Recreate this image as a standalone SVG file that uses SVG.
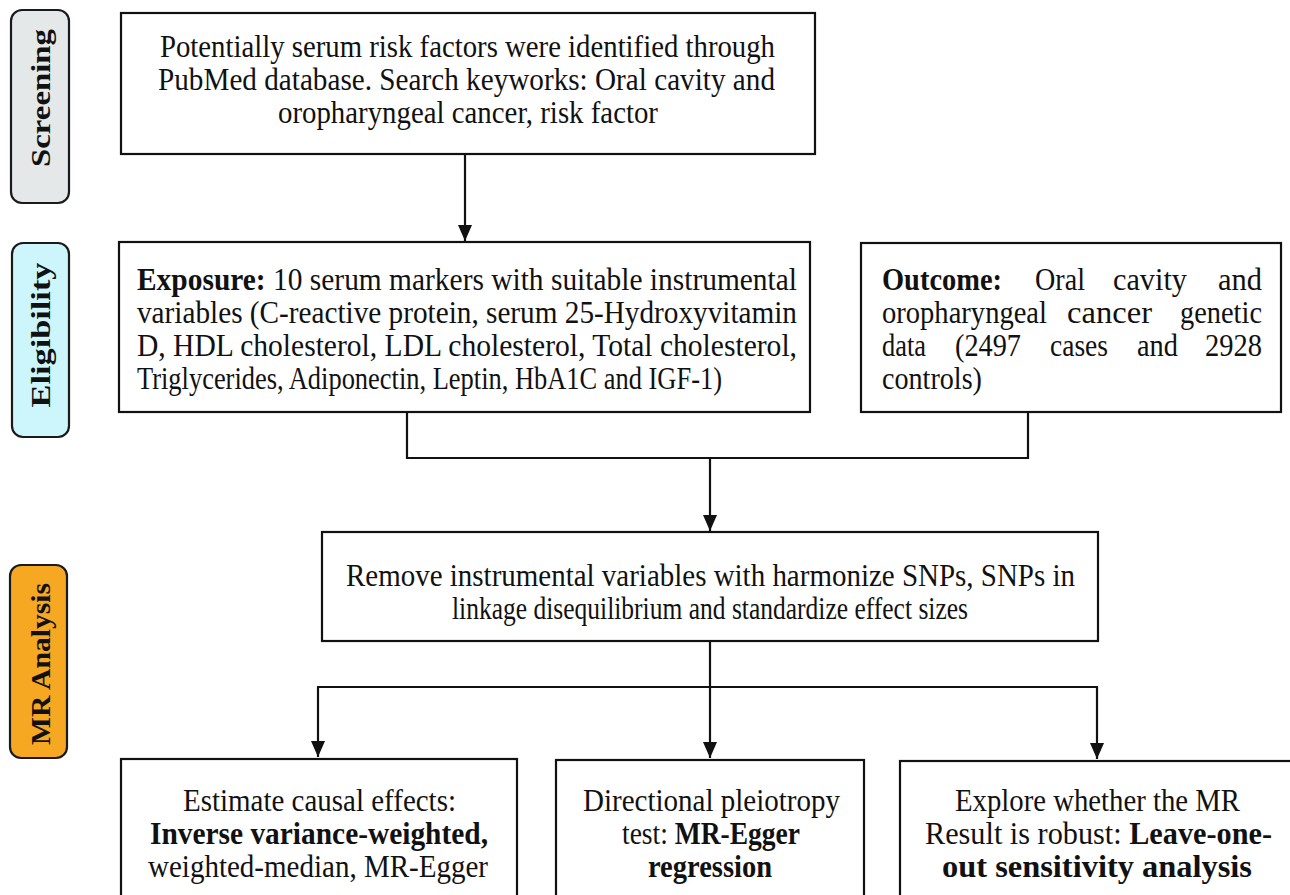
<svg xmlns="http://www.w3.org/2000/svg" width="1290" height="895" viewBox="0 0 1290 895">
<style>
.box{fill:#fff;stroke:#111;stroke-width:2.2}
.pill{stroke:#1a1a1a;stroke-width:2.2}
.t{font-family:"Liberation Serif","Times New Roman",Times,serif;font-size:28px;fill:#111}
.s{font-size:27px}
.b{font-weight:bold}
.lab{font-family:"Liberation Serif","Times New Roman",Times,serif;font-size:27px;font-weight:bold;fill:#111;text-anchor:middle}
.ln{fill:none;stroke:#111;stroke-width:2.2}
</style>
<defs>
<marker id="ah" viewBox="0 0 16 14" refX="16" refY="7" markerWidth="16" markerHeight="14" markerUnits="userSpaceOnUse" orient="auto">
<path d="M0,0 L16,7 L0,14 Z" fill="#111"/>
</marker>
</defs>
<rect width="1290" height="895" fill="#fff"/>

<g id="screening">
<rect class="pill" x="11" y="10" width="58" height="193" rx="11" fill="#e4e8e8"/>
<text class="lab" transform="translate(50,98) rotate(-90)" x="0" y="0" textLength="138" lengthAdjust="spacingAndGlyphs">Screening</text>
</g>
<g id="eligibility">
<rect class="pill" x="12" y="243" width="57" height="194" rx="11" fill="#ccf6fc"/>
<text class="lab" transform="translate(50,335) rotate(-90)" x="0" y="0" textLength="145" lengthAdjust="spacingAndGlyphs">Eligibility</text>
</g>
<g id="mr-analysis">
<rect class="pill" x="10" y="565" width="57" height="193" rx="11" fill="#f6a822"/>
<text class="lab" transform="translate(50,664) rotate(-90)" x="0" y="0" textLength="162" lengthAdjust="spacingAndGlyphs">MR Analysis</text>
</g>

<g id="connectors">
<line class="ln" x1="465" y1="154" x2="465" y2="241" marker-end="url(#ah)"/>
<polyline class="ln" points="407,412 407,458 1028,458 1028,412"/>
<line class="ln" x1="710" y1="458" x2="710" y2="531" marker-end="url(#ah)"/>
<line class="ln" x1="710" y1="641" x2="710" y2="687"/>
<line class="ln" x1="317" y1="687" x2="1098" y2="687"/>
<line class="ln" x1="318" y1="687" x2="318" y2="757" marker-end="url(#ah)"/>
<line class="ln" x1="710" y1="687" x2="710" y2="758" marker-end="url(#ah)"/>
<line class="ln" x1="1097" y1="687" x2="1097" y2="759" marker-end="url(#ah)"/>
</g>

<g id="search">
<rect class="box" x="121" y="13" width="694" height="141"/>
<g transform="scale(1,1.15)">
<text class="t" x="160" y="49.57" textLength="615" lengthAdjust="spacingAndGlyphs">Potentially serum risk factors were identified through</text>
<text class="t" x="158" y="78.26" textLength="617" lengthAdjust="spacingAndGlyphs">PubMed database. Search keyworks:  Oral cavity and</text>
<text class="t" x="278" y="106.96" textLength="380" lengthAdjust="spacingAndGlyphs">oropharyngeal cancer, risk factor</text>
</g>
</g>

<g id="exposure">
<rect class="box" x="119" y="242" width="691" height="170"/>
<g transform="scale(1,1.15)">
<text class="t" x="137" y="252.17" textLength="660" lengthAdjust="spacingAndGlyphs"><tspan class="b">Exposure:</tspan> 10 serum markers with suitable instrumental</text>
<text class="t" x="137" y="280.87" textLength="660" lengthAdjust="spacingAndGlyphs">variables (C-reactive protein, serum 25-Hydroxyvitamin</text>
<text class="t" x="137" y="309.57" textLength="660" lengthAdjust="spacingAndGlyphs">D, HDL cholesterol, LDL cholesterol, Total cholesterol,</text>
<text class="t" x="137" y="338.26" textLength="585" lengthAdjust="spacingAndGlyphs">Triglycerides, Adiponectin, Leptin, HbA1C and IGF-1)</text>
</g>
</g>

<g id="outcome">
<rect class="box" x="861" y="243" width="420" height="169"/>
<g transform="scale(1,1.15)">
<text class="t b" x="882" y="252.17" textLength="120" lengthAdjust="spacingAndGlyphs">Outcome:</text>
<text class="t" x="1035" y="252.17" textLength="50" lengthAdjust="spacingAndGlyphs">Oral</text>
<text class="t" x="1113" y="252.17" textLength="74" lengthAdjust="spacingAndGlyphs">cavity</text>
<text class="t" x="1218" y="252.17" textLength="44" lengthAdjust="spacingAndGlyphs">and</text>
<text class="t" x="882" y="280.87" textLength="165" lengthAdjust="spacingAndGlyphs">oropharyngeal</text>
<text class="t" x="1067" y="280.87" textLength="85" lengthAdjust="spacingAndGlyphs">cancer</text>
<text class="t" x="1180" y="280.87" textLength="82" lengthAdjust="spacingAndGlyphs">genetic</text>
<text class="t" x="882" y="309.57" textLength="44" lengthAdjust="spacingAndGlyphs">data</text>
<text class="t" x="955" y="309.57" textLength="66" lengthAdjust="spacingAndGlyphs">(2497</text>
<text class="t" x="1050" y="309.57" textLength="58" lengthAdjust="spacingAndGlyphs">cases</text>
<text class="t" x="1137" y="309.57" textLength="41" lengthAdjust="spacingAndGlyphs">and</text>
<text class="t" x="1205" y="309.57" textLength="57" lengthAdjust="spacingAndGlyphs">2928</text>
<text class="t" x="882" y="338.26" textLength="100" lengthAdjust="spacingAndGlyphs">controls)</text>
</g>
</g>

<g id="harmonize">
<rect class="box" x="322" y="532" width="776" height="109"/>
<g transform="scale(1,1.15)">
<text class="t" x="346" y="509.57" textLength="729" lengthAdjust="spacingAndGlyphs">Remove instrumental variables with harmonize SNPs, SNPs in</text>
<text class="t" x="452" y="538.26" textLength="516" lengthAdjust="spacingAndGlyphs">linkage disequilibrium and standardize effect sizes</text>
</g>
</g>

<g id="estimate">
<rect class="box" x="121" y="759" width="396" height="160"/>
<g transform="scale(1,1.15)">
<text class="t s" x="183" y="705.22" textLength="273" lengthAdjust="spacingAndGlyphs">Estimate causal effects:</text>
<text class="t s b" x="150" y="733.91" textLength="338" lengthAdjust="spacingAndGlyphs">Inverse variance-weighted,</text>
<text class="t s" x="148" y="762.61" textLength="340" lengthAdjust="spacingAndGlyphs">weighted-median, MR-Egger</text>
</g>
</g>

<g id="pleiotropy">
<rect class="box" x="556" y="760" width="308" height="160"/>
<g transform="scale(1,1.15)">
<text class="t s" x="583" y="705.22" textLength="257" lengthAdjust="spacingAndGlyphs">Directional pleiotropy</text>
<text class="t s" x="622" y="733.91" textLength="178" lengthAdjust="spacingAndGlyphs">test: <tspan class="b">MR-Egger</tspan></text>
<text class="t s b" x="648" y="762.61" textLength="124" lengthAdjust="spacingAndGlyphs">regression</text>
</g>
</g>

<g id="sensitivity">
<rect class="box" x="900" y="761" width="400" height="160"/>
<g transform="scale(1,1.15)">
<text class="t s" x="955" y="705.22" textLength="285" lengthAdjust="spacingAndGlyphs">Explore whether the MR</text>
<text class="t s" x="925" y="733.91" textLength="347" lengthAdjust="spacingAndGlyphs">Result is robust: <tspan class="b">Leave-one-</tspan></text>
<text class="t s b" x="942" y="762.61" textLength="310" lengthAdjust="spacingAndGlyphs">out sensitivity analysis</text>
</g>
</g>
</svg>
